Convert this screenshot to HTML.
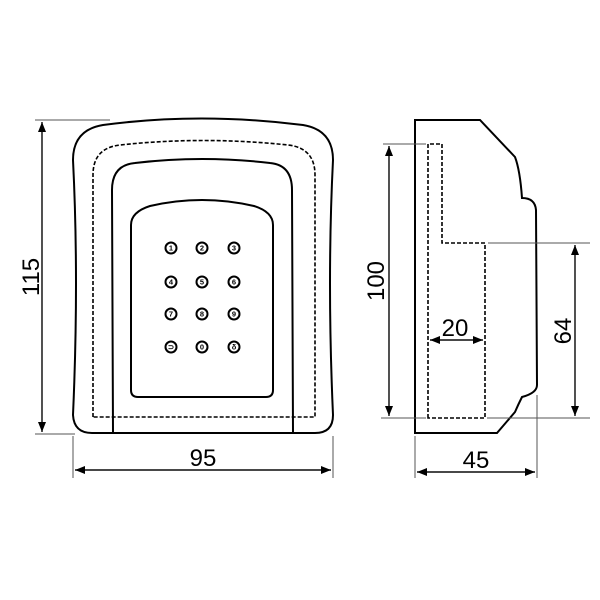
<!DOCTYPE html>
<html><head><style>body{margin:0;background:#fff}svg{display:block}</style></head><body>
<svg width="600" height="600" viewBox="0 0 600 600" xmlns="http://www.w3.org/2000/svg" font-family="Liberation Sans, sans-serif">
<defs>
<marker id="a" markerWidth="10" markerHeight="8" refX="10" refY="4" orient="auto" markerUnits="userSpaceOnUse"><path d="M0,0 L10,4 L0,8 z" fill="#000"/></marker>
</defs>
<g fill="none" stroke="#000" stroke-width="2">
<path d="M103,125 Q200,112 303,125 Q333,130 333,160 Q327,280 333,415 Q333,433 315,433 L92,433 Q74,433 73,415 Q79,280 73,160 Q73,130 103,125 Z"/>
<path d="M93,417 L93,175 Q93,148 120,145 Q203,136 288,145 Q315,148 315,175 L315,417 Z" stroke-dasharray="4,2" stroke-width="1.6"/>
<path d="M113,433 L112,190 Q112,165 135,163 Q202,155 270,163 Q292,165 292,190 L293,433"/>
<path d="M131,225 Q131,212 150,206 Q202,194 254,206 Q273,212 273,225 L273,390 Q273,397 266,397 L138,397 Q131,397 131,390 Z"/>
<path d="M415,120 L480,120 L515,157 Q520,170 522,198 Q535,198 536,210 L537,385 Q537,393 522,397 Q518,405 515,412 L497,433 L415,433 Z"/>
<path d="M428,418 L428,144 L442,144 L442,243 L485,243 L485,418 Z" stroke-dasharray="4,2" stroke-width="1.6"/>
</g>
<g fill="#fff" stroke="#000" stroke-width="2">
<circle cx="171" cy="248" r="5.5"/><circle cx="202" cy="248" r="5.5"/><circle cx="234" cy="248" r="5.5"/>
<circle cx="171" cy="282" r="5.5"/><circle cx="202" cy="282" r="5.5"/><circle cx="234" cy="282" r="5.5"/>
<circle cx="171" cy="314" r="5.5"/><circle cx="202" cy="314" r="5.5"/><circle cx="234" cy="314" r="5.5"/>
<circle cx="171" cy="347" r="5.5"/><circle cx="202" cy="347" r="5.5"/><circle cx="234" cy="347" r="5.5"/>
</g>
<g font-size="7.5" font-weight="bold" text-anchor="middle" fill="#000">
<text x="171" y="250.7">1</text><text x="202" y="250.7">2</text><text x="234" y="250.7">3</text>
<text x="171" y="284.7">4</text><text x="202" y="284.7">5</text><text x="234" y="284.7">6</text>
<text x="171" y="316.7">7</text><text x="202" y="316.7">8</text><text x="234" y="316.7">9</text>
<text x="171" y="349.7">⊃</text><text x="202" y="349.7">0</text><text x="234" y="349.7">δ</text>
</g>
<g stroke="#555" stroke-width="1" fill="none">
<line x1="35" y1="120" x2="110" y2="120"/><line x1="35" y1="434" x2="75" y2="434"/>
<line x1="73" y1="436" x2="73" y2="478"/><line x1="333" y1="436" x2="333" y2="478"/>
<line x1="383" y1="144" x2="426" y2="144"/><line x1="381" y1="418" x2="426" y2="418"/>
<line x1="487" y1="418" x2="590" y2="418"/><line x1="488" y1="243" x2="590" y2="243"/>
<line x1="415" y1="436" x2="415" y2="478"/><line x1="537" y1="395" x2="537" y2="478"/>
</g>
<g stroke="#000" stroke-width="1.2" marker-end="url(#a)">
<line x1="42" y1="432" x2="42" y2="122"/>
<line x1="42" y1="122" x2="42" y2="432"/>
<line x1="75" y1="470" x2="331" y2="470"/>
<line x1="331" y1="470" x2="75" y2="470"/>
<line x1="389" y1="146" x2="389" y2="416"/>
<line x1="389" y1="416" x2="389" y2="146"/>
<line x1="575" y1="245" x2="575" y2="416"/>
<line x1="575" y1="416" x2="575" y2="245"/>
<line x1="430" y1="340" x2="483" y2="340"/>
<line x1="483" y1="340" x2="430" y2="340"/>
<line x1="417" y1="472" x2="535" y2="472"/>
<line x1="535" y1="472" x2="417" y2="472"/>
</g>
<g font-size="24" fill="#000" text-anchor="middle">
<text x="203" y="466">95</text>
<text x="476" y="468">45</text>
<text x="455" y="336">20</text>
<text transform="translate(39,277) rotate(-90)">115</text>
<text transform="translate(384,281) rotate(-90)">100</text>
<text transform="translate(571,331) rotate(-90)">64</text>
</g>
</svg>
</body></html>
